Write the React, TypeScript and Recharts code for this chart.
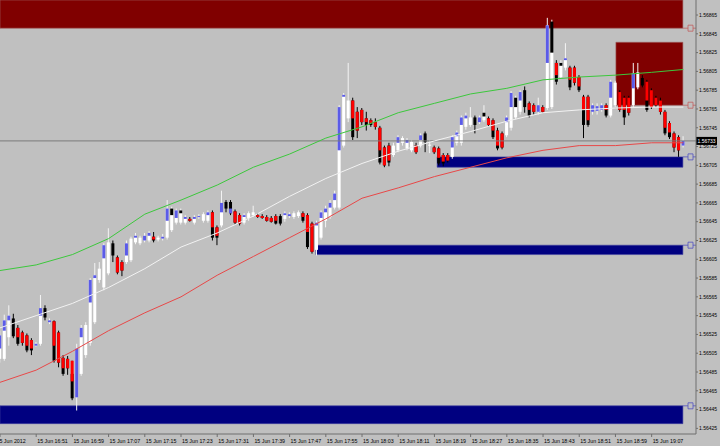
import React from 'react';
import { ComposedChart, Bar, Line, XAxis, YAxis, ReferenceArea, ReferenceLine } from 'recharts';

// One-minute bars, 15 Jun 2012, from 16:43
const open = [
  1.56499, 1.56499, 1.56522, 1.56542, 1.56532, 1.56527, 1.56524, 1.56519, 1.56513, 1.56515,
  1.56553, 1.56538, 1.56539, 1.56527, 1.56500, 1.56499, 1.56483, 1.56458, 1.56483, 1.56503,
  1.56516, 1.56538, 1.56583, 1.56575, 1.56590, 1.56622, 1.56607, 1.56602, 1.56602, 1.56604,
  1.56623, 1.56622, 1.56625, 1.56625, 1.56629, 1.56626, 1.56627, 1.56628, 1.56636, 1.56644,
  1.56644, 1.56644, 1.56648, 1.56644, 1.56650, 1.56646, 1.56646, 1.56655, 1.56639, 1.56641,
  1.56666, 1.56666, 1.56656, 1.56652, 1.56644, 1.56649, 1.56652, 1.56652, 1.56651, 1.56650,
  1.56649, 1.56651, 1.56651, 1.56648, 1.56651, 1.56650, 1.56651, 1.56654, 1.56652, 1.56643,
  1.56615, 1.56628, 1.56646, 1.56650, 1.56660, 1.56660, 1.56726, 1.56755, 1.56774, 1.56762,
  1.56764, 1.56755, 1.56753, 1.56751, 1.56745, 1.56724, 1.56726, 1.56716, 1.56721, 1.56729,
  1.56723, 1.56721, 1.56726, 1.56726, 1.56739, 1.56726, 1.56724, 1.56723, 1.56716, 1.56716,
  1.56714, 1.56729, 1.56729, 1.56746, 1.56748, 1.56756, 1.56751, 1.56753, 1.56755, 1.56753,
  1.56742, 1.56739, 1.56737, 1.56745, 1.56756, 1.56762, 1.56785, 1.56771, 1.56769, 1.56762,
  1.56767, 1.56766, 1.56767, 1.56814, 1.56799, 1.56809, 1.56809, 1.56809, 1.56799, 1.56778,
  1.56778, 1.56762, 1.56763, 1.56764, 1.56769, 1.56758, 1.56769, 1.56783, 1.56777, 1.56777,
  1.56769, 1.56788, 1.56798, 1.56794, 1.56785, 1.56777, 1.56774, 1.56762, 1.56750, 1.56739,
  1.56735, 1.56726,
];
const high = [
  1.56529, 1.56546, 1.56556, 1.56547, 1.56535, 1.56529, 1.56526, 1.56521, 1.56517, 1.56567,
  1.56556, 1.56542, 1.56540, 1.56529, 1.56503, 1.56502, 1.56497, 1.56515, 1.56535, 1.56538,
  1.56585, 1.56601, 1.56602, 1.56622, 1.56638, 1.56625, 1.56609, 1.56604, 1.56625, 1.56629,
  1.56633, 1.56630, 1.56633, 1.56635, 1.56634, 1.56630, 1.56632, 1.56668, 1.56661, 1.56659,
  1.56659, 1.56652, 1.56650, 1.56652, 1.56653, 1.56655, 1.56657, 1.56657, 1.56641, 1.56678,
  1.56668, 1.56668, 1.56658, 1.56654, 1.56654, 1.56656, 1.56662, 1.56654, 1.56653, 1.56652,
  1.56651, 1.56653, 1.56653, 1.56656, 1.56655, 1.56656, 1.56657, 1.56656, 1.56654, 1.56645,
  1.56646, 1.56657, 1.56662, 1.56668, 1.56678, 1.56769, 1.56782, 1.56814, 1.56777, 1.56767,
  1.56766, 1.56762, 1.56755, 1.56755, 1.56747, 1.56726, 1.56729, 1.56729, 1.56737, 1.56736,
  1.56734, 1.56732, 1.56729, 1.56739, 1.56741, 1.56732, 1.56726, 1.56725, 1.56718, 1.56718,
  1.56737, 1.56742, 1.56758, 1.56761, 1.56767, 1.56758, 1.56758, 1.56769, 1.56757, 1.56755,
  1.56745, 1.56741, 1.56758, 1.56784, 1.56779, 1.56785, 1.56789, 1.56773, 1.56771, 1.56777,
  1.56769, 1.56862, 1.56860, 1.56817, 1.56817, 1.56835, 1.56811, 1.56811, 1.56801, 1.56780,
  1.56780, 1.56771, 1.56771, 1.56771, 1.56771, 1.56796, 1.56795, 1.56785, 1.56779, 1.56779,
  1.56814, 1.56814, 1.56801, 1.56796, 1.56787, 1.56779, 1.56777, 1.56764, 1.56752, 1.56741,
  1.56737, 1.56736,
];
const low = [
  1.56495, 1.56497, 1.56513, 1.56521, 1.56513, 1.56513, 1.56506, 1.56503, 1.56512, 1.56513,
  1.56540, 1.56536, 1.56495, 1.56490, 1.56481, 1.56482, 1.56455, 1.56444, 1.56481, 1.56500,
  1.56513, 1.56536, 1.56580, 1.56572, 1.56588, 1.56602, 1.56589, 1.56587, 1.56600, 1.56602,
  1.56621, 1.56620, 1.56623, 1.56623, 1.56623, 1.56624, 1.56625, 1.56626, 1.56634, 1.56642,
  1.56642, 1.56642, 1.56645, 1.56642, 1.56648, 1.56644, 1.56644, 1.56625, 1.56620, 1.56639,
  1.56655, 1.56652, 1.56642, 1.56641, 1.56642, 1.56646, 1.56650, 1.56649, 1.56648, 1.56645,
  1.56644, 1.56642, 1.56641, 1.56645, 1.56649, 1.56648, 1.56649, 1.56644, 1.56616, 1.56611,
  1.56609, 1.56626, 1.56639, 1.56648, 1.56658, 1.56658, 1.56724, 1.56751, 1.56732, 1.56734,
  1.56748, 1.56742, 1.56746, 1.56743, 1.56706, 1.56703, 1.56704, 1.56714, 1.56719, 1.56726,
  1.56721, 1.56719, 1.56717, 1.56724, 1.56719, 1.56718, 1.56717, 1.56705, 1.56704, 1.56708,
  1.56712, 1.56726, 1.56726, 1.56743, 1.56746, 1.56739, 1.56749, 1.56751, 1.56746, 1.56733,
  1.56721, 1.56722, 1.56735, 1.56742, 1.56754, 1.56759, 1.56761, 1.56756, 1.56759, 1.56759,
  1.56761, 1.56764, 1.56765, 1.56791, 1.56797, 1.56806, 1.56785, 1.56790, 1.56783, 1.56734,
  1.56746, 1.56759, 1.56759, 1.56762, 1.56756, 1.56756, 1.56767, 1.56762, 1.56748, 1.56758,
  1.56767, 1.56786, 1.56788, 1.56762, 1.56765, 1.56767, 1.56759, 1.56737, 1.56733, 1.56719,
  1.56714, 1.56724,
];
const close = [
  1.56524, 1.56540, 1.56545, 1.56523, 1.56515, 1.56516, 1.56508, 1.56508, 1.56515, 1.56553,
  1.56543, 1.56540, 1.56497, 1.56495, 1.56483, 1.56489, 1.56457, 1.56510, 1.56532, 1.56535,
  1.56583, 1.56588, 1.56595, 1.56620, 1.56623, 1.56609, 1.56591, 1.56593, 1.56622, 1.56627,
  1.56630, 1.56628, 1.56630, 1.56633, 1.56625, 1.56628, 1.56629, 1.56659, 1.56659, 1.56657,
  1.56657, 1.56650, 1.56646, 1.56650, 1.56651, 1.56653, 1.56655, 1.56628, 1.56628, 1.56665,
  1.56659, 1.56654, 1.56644, 1.56643, 1.56652, 1.56654, 1.56655, 1.56650, 1.56649, 1.56646,
  1.56645, 1.56643, 1.56643, 1.56654, 1.56653, 1.56654, 1.56655, 1.56646, 1.56618, 1.56613,
  1.56644, 1.56655, 1.56659, 1.56665, 1.56675, 1.56767, 1.56780, 1.56774, 1.56735, 1.56742,
  1.56751, 1.56748, 1.56748, 1.56746, 1.56708, 1.56705, 1.56708, 1.56726, 1.56735, 1.56734,
  1.56732, 1.56730, 1.56719, 1.56737, 1.56730, 1.56727, 1.56719, 1.56707, 1.56707, 1.56710,
  1.56735, 1.56740, 1.56756, 1.56758, 1.56756, 1.56748, 1.56756, 1.56761, 1.56748, 1.56735,
  1.56723, 1.56724, 1.56756, 1.56782, 1.56777, 1.56783, 1.56767, 1.56758, 1.56762, 1.56769,
  1.56762, 1.56854, 1.56825, 1.56794, 1.56814, 1.56819, 1.56788, 1.56793, 1.56785, 1.56748,
  1.56748, 1.56769, 1.56768, 1.56769, 1.56758, 1.56794, 1.56793, 1.56764, 1.56756, 1.56761,
  1.56803, 1.56804, 1.56790, 1.56764, 1.56767, 1.56769, 1.56762, 1.56739, 1.56735, 1.56724,
  1.56721, 1.56731,
];
// Heiken-Ashi style overlay body (open -> close) and its tone: b = blue, r = red, k = black, '' = none
const haOpen = [
  1.56510, 1.56529, 1.56540, null, 1.56532, 1.56527, 1.56524, 1.56519, 1.56513, 1.56545,
  null, 1.56538, 1.56539, 1.56527, 1.56500, 1.56499, 1.56497, 1.56458, 1.56522, null,
  1.56559, 1.56585, null, 1.56606, null, null, 1.56607, 1.56602, 1.56609, null,
  1.56628, null, 1.56625, 1.56630, 1.56629, null, 1.56627, 1.56646, 1.56659, 1.56649,
  1.56657, 1.56648, 1.56648, 1.56648, 1.56650, null, 1.56652, 1.56655, 1.56639, 1.56655,
  null, 1.56654, 1.56656, 1.56652, 1.56650, null, null, 1.56652, 1.56651, 1.56650,
  1.56649, 1.56651, null, 1.56652, 1.56651, null, null, 1.56654, 1.56652, 1.56643,
  1.56641, 1.56649, 1.56655, 1.56660, 1.56668, 1.56721, 1.56778, null, 1.56774, 1.56762,
  1.56764, 1.56755, 1.56753, 1.56751, 1.56745, 1.56724, 1.56726, null, 1.56729, null,
  1.56729, null, 1.56726, 1.56732, null, null, 1.56724, 1.56723, 1.56716, 1.56716,
  1.56724, 1.56736, 1.56748, 1.56755, null, null, 1.56751, 1.56761, 1.56755, 1.56753,
  1.56742, 1.56739, 1.56751, 1.56767, 1.56777, 1.56774, null, 1.56771, 1.56769, 1.56762,
  1.56767, 1.56814, 1.56858, 1.56814, 1.56814, 1.56817, 1.56809, 1.56809, 1.56799, 1.56778,
  1.56778, 1.56762, 1.56763, 1.56764, 1.56769, 1.56777, null, 1.56783, 1.56777, 1.56777,
  1.56787, null, null, 1.56794, 1.56785, 1.56777, 1.56774, 1.56762, 1.56750, 1.56739,
  1.56735, 1.56726,
];
const haClose = [
  1.56524, 1.56540, 1.56545, null, 1.56522, 1.56516, 1.56513, 1.56510, 1.56515, 1.56553,
  null, 1.56540, 1.56513, 1.56495, 1.56489, 1.56489, 1.56475, 1.56510, 1.56532, null,
  1.56583, 1.56588, null, 1.56620, null, null, 1.56591, 1.56593, 1.56622, null,
  1.56630, null, 1.56630, 1.56633, 1.56626, null, 1.56629, 1.56659, 1.56652, 1.56657,
  1.56654, 1.56650, 1.56646, 1.56650, 1.56651, null, 1.56655, 1.56639, 1.56630, 1.56665,
  null, 1.56659, 1.56644, 1.56643, 1.56652, null, null, 1.56650, 1.56649, 1.56646,
  1.56645, 1.56646, null, 1.56654, 1.56653, null, null, 1.56650, 1.56634, 1.56613,
  1.56644, 1.56655, 1.56659, 1.56665, 1.56675, 1.56767, 1.56780, null, 1.56755, 1.56742,
  1.56751, 1.56751, 1.56750, 1.56746, 1.56721, 1.56705, 1.56710, null, 1.56735, null,
  1.56732, null, 1.56719, 1.56737, null, null, 1.56719, 1.56713, 1.56709, 1.56710,
  1.56735, 1.56740, 1.56756, 1.56758, null, null, 1.56756, 1.56757, 1.56748, 1.56742,
  1.56726, 1.56724, 1.56756, 1.56782, 1.56767, 1.56783, null, 1.56764, 1.56762, 1.56769,
  1.56762, 1.56854, 1.56825, 1.56801, 1.56811, 1.56819, 1.56796, 1.56793, 1.56789, 1.56764,
  1.56753, 1.56769, 1.56768, 1.56769, 1.56764, 1.56794, null, 1.56764, 1.56764, 1.56761,
  1.56803, null, null, 1.56774, 1.56767, 1.56769, 1.56762, 1.56745, 1.56740, 1.56724,
  1.56721, 1.56731,
];
const haTone = [
  'b', 'b', 'b', '', 'r', 'r', 'r', 'r', 'b', 'b',
  '', 'b', 'r', 'r', 'r', 'r', 'r', 'b', 'b', '',
  'b', 'b', '', 'b', '', '', 'r', 'r', 'b', '',
  'b', '', 'b', 'b', 'r', '', 'b', 'b', 'k', 'b',
  'k', 'b', 'r', 'b', 'b', '', 'b', 'r', 'r', 'b',
  '', 'b', 'r', 'r', 'b', '', '', 'r', 'r', 'r',
  'r', 'r', '', 'b', 'b', '', '', 'r', 'r', 'r',
  'b', 'b', 'b', 'b', 'b', 'b', 'b', '', 'r', 'r',
  'r', 'r', 'r', 'r', 'r', 'r', 'r', '', 'b', '',
  'b', '', 'r', 'b', '', '', 'r', 'r', 'r', 'r',
  'b', 'b', 'b', 'b', '', '', 'b', 'k', 'r', 'r',
  'r', 'r', 'b', 'b', 'k', 'b', '', 'r', 'r', 'b',
  'r', 'b', 'k', 'r', 'k', 'b', 'r', 'r', 'r', 'r',
  'r', 'b', 'b', 'b', 'r', 'b', '', 'r', 'r', 'r',
  'b', '', '', 'r', 'r', 'r', 'r', 'r', 'r', 'r',
  'r', 'b',
];

// Moving averages, read every 8 bars
const maBars = [0, 8, 16, 24, 32, 40, 48, 56, 64, 72, 80, 88, 96, 104, 112, 120, 128, 136, 144, 151];
const greenMA = [1.56593, 1.56599, 1.56610, 1.56627, 1.56653, 1.56668, 1.56684, 1.56703, 1.56717, 1.56734,
  1.56746, 1.56761, 1.56771, 1.56781, 1.56787, 1.56796, 1.56799, 1.56801, 1.56804, 1.56807];
const whiteMA = [1.56532, 1.56545, 1.56558, 1.56575, 1.56595, 1.56618, 1.56633, 1.56651, 1.56672, 1.56691,
  1.56707, 1.56720, 1.56731, 1.56741, 1.56752, 1.56761, 1.56764, 1.56766, 1.56767, 1.56767];
const redMA = [1.56474, 1.56487, 1.56507, 1.56529, 1.56548, 1.56565, 1.56588, 1.56608, 1.56628, 1.56648,
  1.56670, 1.56681, 1.56693, 1.56703, 1.56713, 1.56721, 1.56726, 1.56726, 1.56729, 1.56729];

// Zones (rectangles) : start bar, end bar, low price, high price
const zoneStart = [0, 136.1, 96.6, 69.8, 0];
const zoneEnd = [150.9, 150.9, 150.9, 150.9, 150.9];
const zoneLow = [1.56851, 1.56769, 1.56703, 1.56610, 1.56430];
const zoneHigh = [1.56881, 1.56836, 1.56714, 1.56620, 1.56449];
const zoneKind = ['supply', 'supply', 'demand', 'demand', 'demand'];
const zoneLabelPrice = [1.56851, 1.56769, 1.56714, 1.56620, 1.56449];

const tickBars = [0, 8, 16, 24, 32, 40, 48, 56, 64, 72, 80, 88, 96, 104, 112, 120, 128, 136, 144];
const timeLabels = ['15 Jun 2012', '15 Jun 16:51', '15 Jun 16:59', '15 Jun 17:07', '15 Jun 17:15', '15 Jun 17:23',
  '15 Jun 17:31', '15 Jun 17:39', '15 Jun 17:47', '15 Jun 17:55', '15 Jun 18:03', '15 Jun 18:11', '15 Jun 18:19',
  '15 Jun 18:27', '15 Jun 18:35', '15 Jun 18:43', '15 Jun 18:51', '15 Jun 18:59', '15 Jun 19:07'];
const priceTicks = [1.56865, 1.56845, 1.56825, 1.56805, 1.56785, 1.56765, 1.56745, 1.56725, 1.56705, 1.56685,
  1.56665, 1.56645, 1.56625, 1.56605, 1.56585, 1.56565, 1.56545, 1.56525, 1.56505, 1.56485, 1.56465, 1.56445, 1.56425];
const lastPrice = 1.56731;

const rows = open.map((o, i) => ({
  k: i,
  o,
  h: high[i],
  l: low[i],
  c: close[i],
  range: [low[i], high[i]],
  ha: haOpen[i],
  hc: haClose[i],
  tone: haTone[i],
}));
const maRows = maBars.map((k, i) => ({ k, g: greenMA[i], w: whiteMA[i], r: redMA[i] }));

const TONE: Record<string, string> = { b: '#5B5BE8', r: '#FF0000', k: '#000000' };
const FONT = '"Liberation Sans", Arial, sans-serif';

const Candle = (props: any) => {
  const { x, y, width, height, payload } = props;
  if (!payload || y == null || height == null) return null;
  const { o, h, l, c, ha, hc, tone } = payload;
  const cx = x + width / 2;
  const span = h - l || 1e-9;
  const py = (p: number) => y + ((h - p) / span) * height;
  const bull = c >= o;
  const col = bull ? '#FFFFFF' : '#000000';
  const bTop = py(Math.max(o, c));
  const bBot = py(Math.min(o, c));
  const bw = 3;
  let overlay = null;
  if (tone && ha != null && hc != null) {
    const oTop = py(Math.max(ha, hc));
    const oBot = py(Math.min(ha, hc));
    overlay = <rect x={cx - bw / 2} y={oTop} width={bw} height={Math.max(1, oBot - oTop)} fill={TONE[tone]} />;
  }
  return (
    <g>
      <line x1={cx} x2={cx} y1={y} y2={y + height} stroke={bull ? '#F4F4F4' : '#000000'} strokeWidth={1} />
      <rect x={cx - bw / 2} y={bTop} width={bw} height={Math.max(1, bBot - bTop)} fill={col} />
      {overlay}
    </g>
  );
};

const PriceTick = (props: any) => {
  const { x, y, payload } = props;
  return (
    <text x={x} y={y} dy={1.8} fontSize={5} fontFamily={FONT} fill="#000" textAnchor="start">
      {payload.value.toFixed(5)}
    </text>
  );
};

const TimeTick = (props: any) => {
  const { x, y, payload } = props;
  const idx = tickBars.indexOf(payload.value);
  return (
    <text x={idx === 0 ? x - 3.5 : x + 1} y={y + 3.5} fontSize={5.3} fontFamily={FONT} fill="#000" textAnchor="start">
      {timeLabels[idx]}
    </text>
  );
};

const ZoneMarker = (props: any) => {
  const { viewBox, color } = props;
  if (!viewBox) return null;
  const y0 = viewBox.y;
  const xr = viewBox.x + viewBox.width;
  return (
    <g>
      <line x1={xr - 13} x2={xr - 8} y1={y0} y2={y0} stroke={color} strokeWidth={0.8} />
      <path d={`M${xr - 8} ${y0 - 3} h5 v6 h-5 z M${xr - 3} ${y0} h3`} fill="none" stroke={color} strokeWidth={0.8} />
    </g>
  );
};

const PriceBox = (props: any) => {
  const { viewBox, text } = props;
  if (!viewBox) return null;
  const y0 = viewBox.y;
  const xr = viewBox.x + viewBox.width;
  return (
    <g>
      <rect x={xr} y={y0 - 4} width={21} height={8} fill="#000" />
      <text x={xr + 1.5} y={y0 + 1.8} fontSize={5} fontFamily={FONT} fill="#fff">{text}</text>
    </g>
  );
};

export default function App() {
  return (
    <div style={{ position: 'absolute', left: 0, top: 0, width: 720, height: 446, background: '#C0C0C0' }}>
      <ComposedChart width={720} height={446} data={rows} margin={{ top: 0, right: 0, bottom: 0, left: 0 }}>
        <XAxis
          type="number"
          dataKey="k"
          domain={[0, 153.8]}
          allowDataOverflow
          ticks={tickBars}
          interval={0}
          tick={<TimeTick />}
          tickSize={3}
          height={12}
          axisLine={{ stroke: '#6E6E6E' }}
          tickLine={{ stroke: '#6E6E6E' }}
        />
        <YAxis
          type="number"
          orientation="right"
          domain={[1.56419, 1.56881]}
          allowDataOverflow
          ticks={priceTicks}
          interval={0}
          tick={<PriceTick />}
          tickSize={2}
          tickMargin={1}
          width={24}
          axisLine={{ stroke: '#6E6E6E' }}
          tickLine={{ stroke: '#6E6E6E' }}
        />
        {zoneStart.map((s, i) => (
          <ReferenceArea
            key={'z' + i}
            x1={s}
            x2={zoneEnd[i]}
            y1={zoneLow[i]}
            y2={zoneHigh[i]}
            fill={zoneKind[i] === 'supply' ? '#800000' : '#000080'}
            fillOpacity={1}
            stroke={zoneKind[i] === 'supply' ? '#A06060' : '#4040A0'}
            strokeWidth={0.6}
            ifOverflow="hidden"
          />
        ))}
        <ReferenceLine y={lastPrice} stroke="#7A7A7A" strokeWidth={1} label={<PriceBox text={'1.56733'} />} />
        {zoneLabelPrice.map((p, i) => (
          <ReferenceLine
            key={'m' + i}
            y={p}
            stroke="none"
            label={<ZoneMarker color={zoneKind[i] === 'supply' ? '#C06060' : '#5050C0'} />}
          />
        ))}
        <Line data={maRows} type="linear" dataKey="r" stroke="#E84848" strokeWidth={1} dot={false} activeDot={false} isAnimationActive={false} />
        <Line data={maRows} type="linear" dataKey="w" stroke="#F2F2F2" strokeWidth={1} dot={false} activeDot={false} isAnimationActive={false} />
        <Line data={maRows} type="linear" dataKey="g" stroke="#3CC83C" strokeWidth={1} dot={false} activeDot={false} isAnimationActive={false} />
        <Bar dataKey="range" barSize={4} shape={(p: any) => <Candle {...p} />} isAnimationActive={false} />
      </ComposedChart>
    </div>
  );
}
